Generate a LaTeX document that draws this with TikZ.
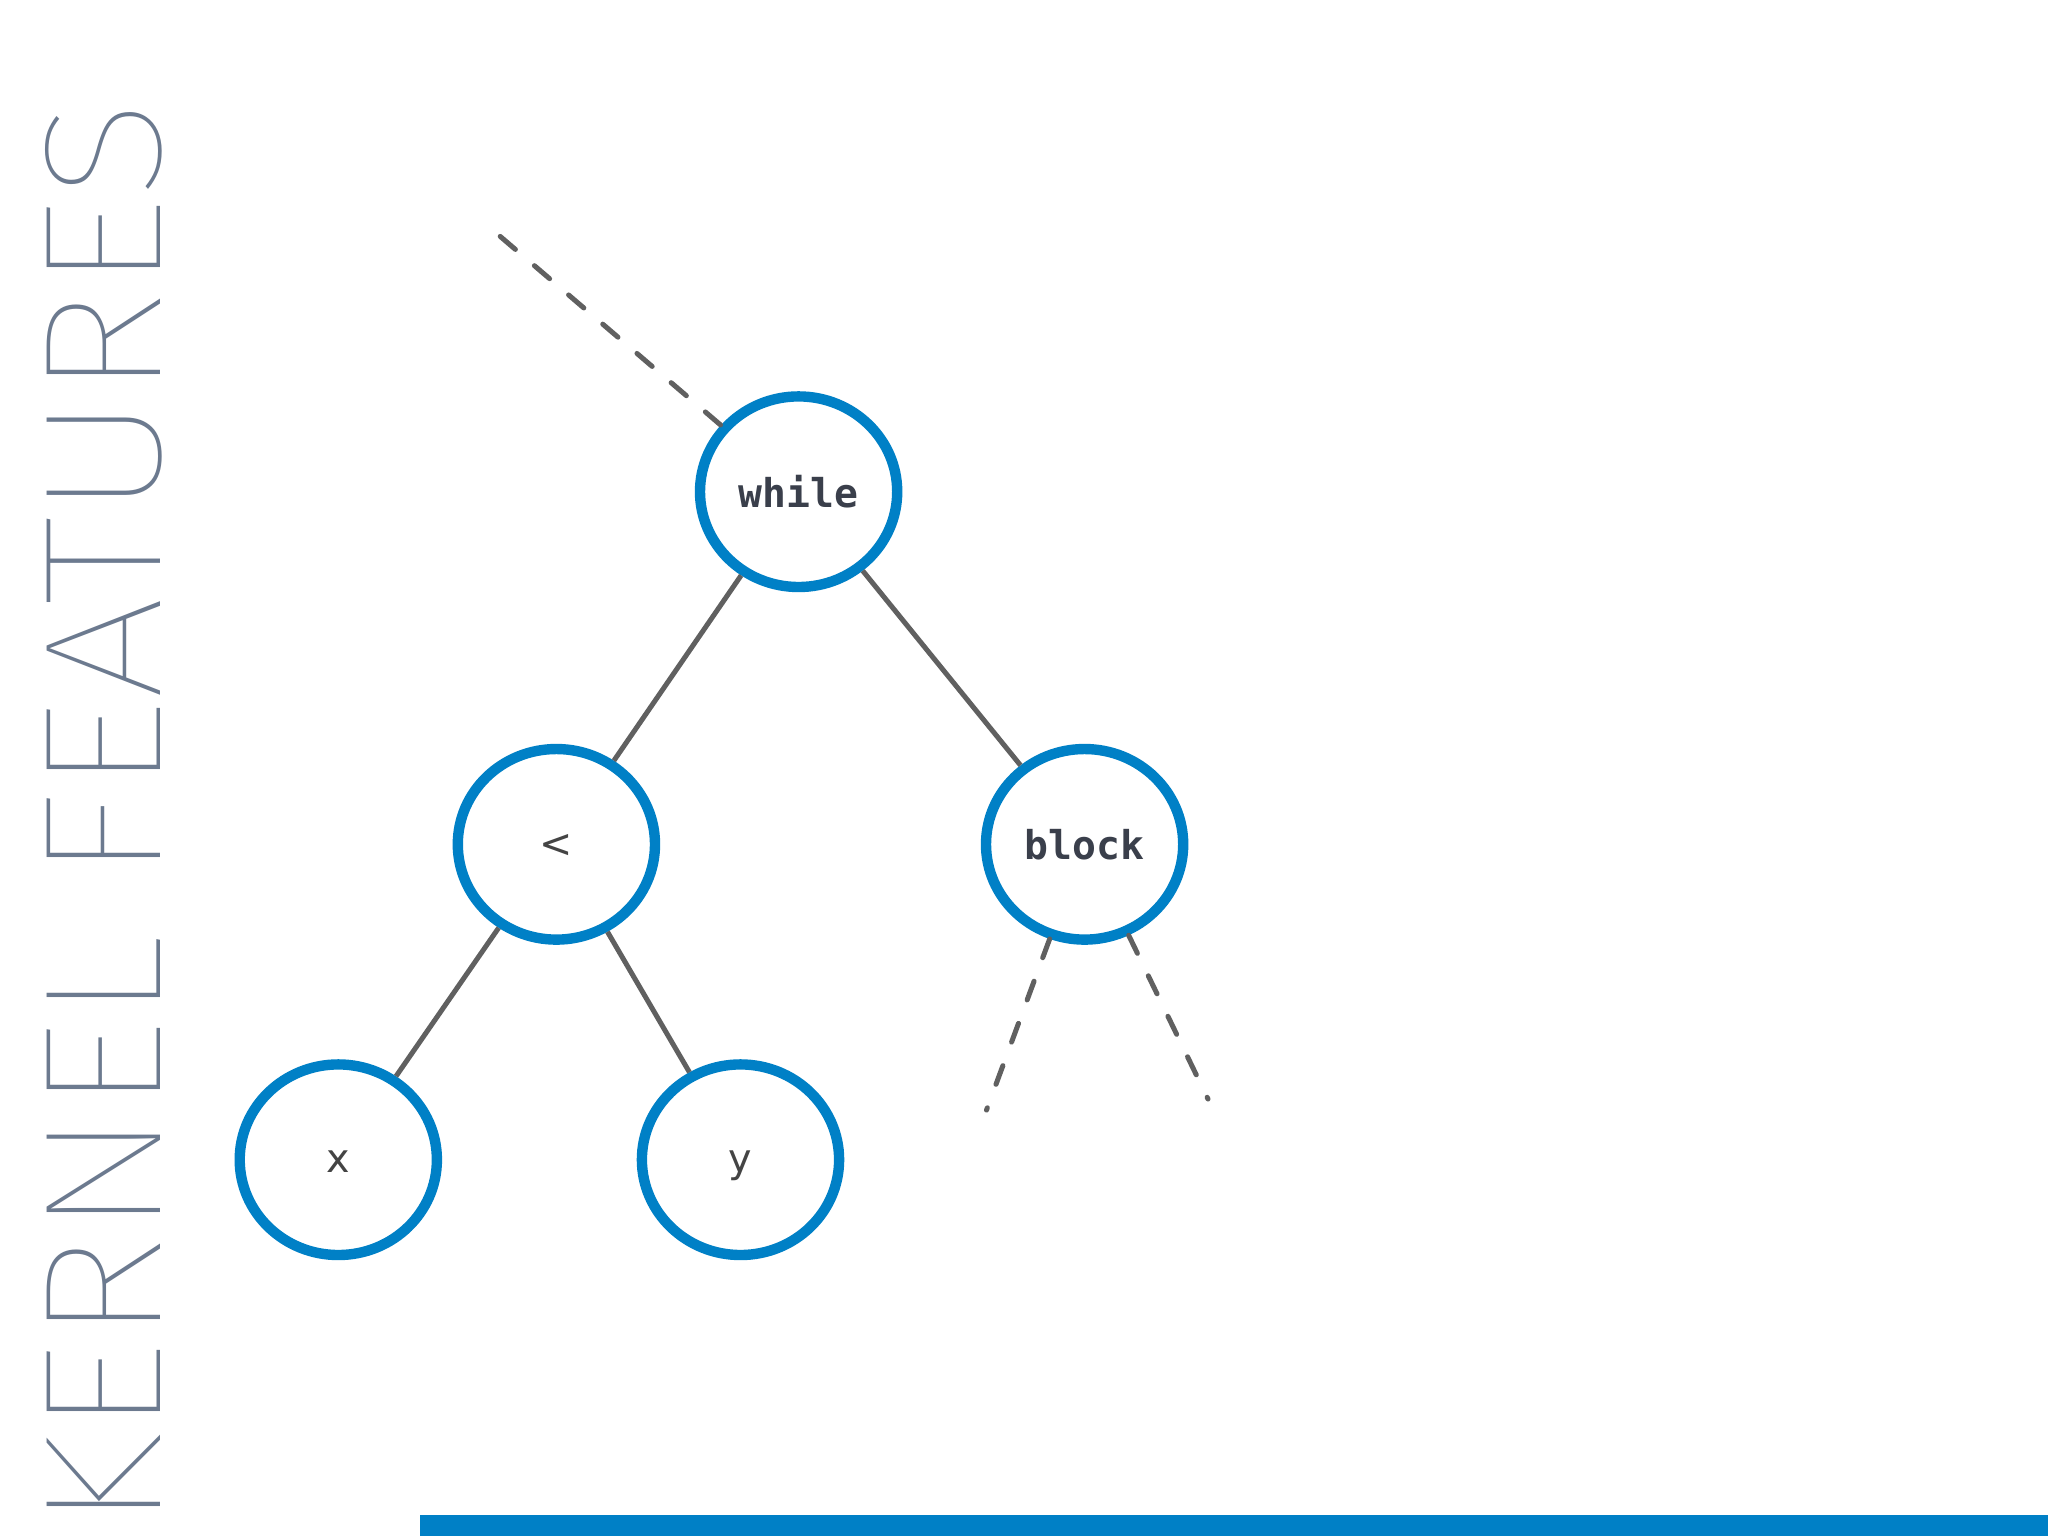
\documentclass[tikz,border=0pt]{standalone}
\usepackage{fontspec}
\usepackage{graphicx}
\usetikzlibrary{shapes.geometric}
\IfFontExistsTF{Fira Sans Thin}{\newfontfamily\titlefont{Fira Sans Thin}}{%
 \IfFontExistsTF{Poppins Thin}{\newfontfamily\titlefont{Poppins Thin}}{%
  \IfFontExistsTF{Lato Hairline}{\newfontfamily\titlefont{Lato Hairline}}{%
   \IfFontExistsTF{DejaVu Sans ExtraLight}{\newfontfamily\titlefont{DejaVu Sans ExtraLight}}{%
    \newfontfamily\titlefont{Liberation Sans}}}}}
\newfontfamily\monob{DejaVu Sans Mono}
\newfontfamily\lblfont{DejaVu Sans}
\definecolor{kblue}{RGB}{0,128,198}
\definecolor{kgray}{RGB}{96,96,96}
\definecolor{ktitle}{RGB}{108,122,143}
\definecolor{kmono}{RGB}{58,63,75}
\definecolor{klbl}{RGB}{68,68,68}
\begin{document}
\begin{tikzpicture}[x=0.1mm,y=-0.1mm,
  treenode/.style={ellipse, draw=kblue, line width=1.04mm, fill=white,
    minimum width=19.72mm, minimum height=19.06mm, inner sep=0pt},
  monolbl/.style={font=\monob\bfseries\fontsize{11.3}{13}\selectfont, text=kmono},
  sanslbl/.style={font=\lblfont\fontsize{11.3}{13}\selectfont, text=klbl,
    text height=0.8em, text depth=0.06em},
  edge/.style={draw=kgray, line width=0.5mm},
  dashedge/.style={draw=kgray, line width=0.5mm, line cap=round, dash pattern=on 2.0mm off 2.5mm}]
\fill[white] (0,0) rectangle (2048,1536);
\useasboundingbox (0,0) rectangle (2048,1536);

% title
\node[rotate=90, anchor=base west, inner sep=0pt, text=ktitle] (title) at (160.6,1530.6)
  {\resizebox{142.97mm}{11.5mm}{\titlefont KERNEL FEATURES}};

% nodes
\node[treenode, monolbl] (while) at (798.6,491.7) {while};
\node[treenode, sanslbl] (lt) at (556.4,844.3) {<};
\node[treenode, monolbl] (block) at (1084.6,844.3) {block};
\node[treenode, sanslbl] (x) at (338.3,1159.7) {x};
\node[treenode, sanslbl] (y) at (740.5,1159.7) {y};

% edges
\draw[edge] (while) -- (lt);
\draw[edge] (while) -- (block);
\draw[edge] (lt) -- (x);
\draw[edge] (lt) -- (y);

% dashed edges
\coordinate (wfree) at (500.2,236.4);
\coordinate (blfree) at (986.5,1110);
\coordinate (brfree) at (1208,1099);
\draw[dashedge] (wfree) -- (while);
\draw[dashedge] (block) -- (blfree);
\draw[dashedge] (block) -- (brfree);

% bottom bar
\fill[kblue] (420,1515) rectangle (2048,1536);
\end{tikzpicture}
\end{document}
